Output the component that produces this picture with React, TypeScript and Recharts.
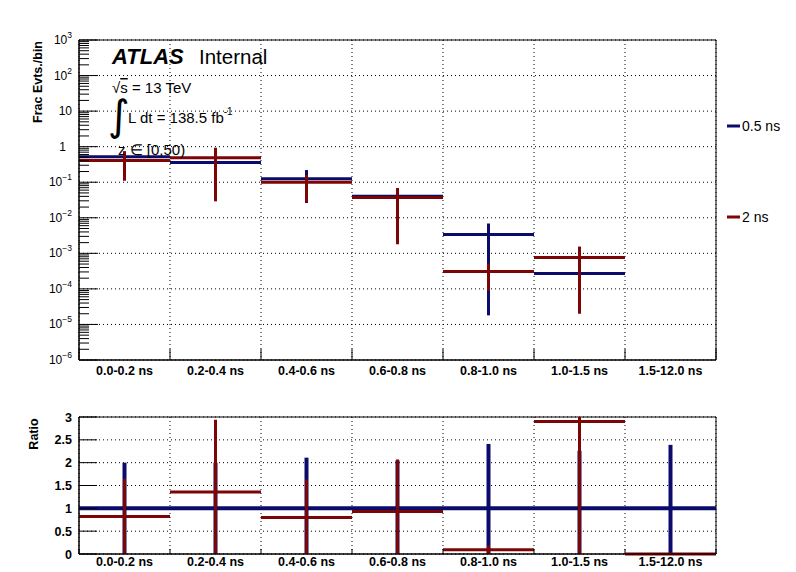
import React from 'react';
import { ComposedChart, Scatter, ErrorBar, XAxis, YAxis, CartesianGrid, ReferenceArea } from 'recharts';

const bins = ['0.0-0.2 ns', '0.2-0.4 ns', '0.4-0.6 ns', '0.6-0.8 ns', '0.8-1.0 ns', '1.0-1.5 ns', '1.5-12.0 ns'];
const seriesNames = ['0.5 ns', '2 ns'];
const seriesColors = ['#0b0b6b', '#7c0505'];

// fraction of events per bin, with error band bounds (null = empty bin)
const frac05 = [0.52, 0.36, 0.126, 0.04, 0.0034, 0.00027, null];
const frac05Lo = [0.3, 0.15, 0.026, 0.01, 1.8e-5, 6e-5, null];
const frac05Hi = [0.7, 0.8, 0.22, 0.06, 0.0069, 0.0006, null];
const frac2 = [0.41, 0.49, 0.1, 0.037, 0.00031, 0.00076, null];
const frac2Lo = [0.11, 0.029, 0.027, 0.0018, 8.7e-5, 2e-5, null];
const frac2Hi = [0.75, 0.93, 0.16, 0.069, 0.00052, 0.00155, null];

// ratio to the 0.5 ns sample (upper edge of bin 6 error is cut by the frame at 3)
const ratio05 = [1, 1, 1, 1, 1, 1, 1];
const ratio05Hi = [2.0, 2.0, 2.11, 2.05, 2.41, 2.26, 2.39];
const ratio2 = [0.82, 1.36, 0.8, 0.93, 0.094, 2.9, 0];
const ratio2Hi = [1.65, 2.94, 1.63, 2.07, 0.19, 3.0, 0];
const ratioLo = [0, 0, 0, 0, 0, 0, 0];

const logTicks = [1e-6, 1e-5, 1e-4, 1e-3, 1e-2, 1e-1, 1, 10, 100, 1000];
const minorTicks = logTicks.slice(0, -1).flatMap(d => [2, 3, 4, 5, 6, 7, 8, 9].map(m => m * d));
const allLogTicks = [...logTicks, ...minorTicks].sort((a, b) => a - b);
const ratioTicks = [0, 0.5, 1, 1.5, 2, 2.5, 3];
const edgeTicks = [0, 1, 2, 3, 4, 5, 6, 7];
const xTicks = [...edgeTicks, ...bins.map((_, i) => i + 0.5)].sort((a, b) => a - b);

const FONT = '"Liberation Sans", Arial, Helvetica, sans-serif';
const TICK_GAP = 7;

const makeRows = (vals: (number | null)[], lo: (number | null)[], hi: (number | null)[]) =>
    vals
        .map((v, i) => (v == null ? null : { x: i + 0.5, y: v, ex: 0.5, ey: [v - (lo[i] as number), (hi[i] as number) - v] }))
        .filter(Boolean) as any[];

const topRows = [makeRows(frac05, frac05Lo, frac05Hi), makeRows(frac2, frac2Lo, frac2Hi)];
const bottomRows = [makeRows(ratio05, ratioLo, ratio05Hi), makeRows(ratio2, ratioLo, ratio2Hi)];

// log axis: label on decades, inward tick marks (long on decades, short in between)
const LogTick = ({ x, y, payload }: any) => {
    const lg = Math.log10(payload.value);
    const e = Math.round(lg);
    const major = Math.abs(lg - e) < 1e-6;
    const ax = x + TICK_GAP;
    const mark = <line x1={ax} x2={ax + (major ? 19 : 10)} y1={y} y2={y} stroke="#000" />;
    if (!major) return mark;
    const common = { y, dy: 4, textAnchor: 'end' as const, fontFamily: FONT, fontSize: 12, fill: '#000' };
    let label;
    if (e === 0) label = <text {...common} x={x - 6}>1</text>;
    else if (e === 1) label = <text {...common} x={x}>10</text>;
    else
        label = (
            <text {...common} x={x}>
                10<tspan dy={-6} fontSize={8.5}>{e < 0 ? '\u2212' + -e : e}</tspan>
            </text>
        );
    return <g>{mark}{label}</g>;
};

const RatioTick = ({ x, y, payload }: any) => {
    const ax = x + TICK_GAP;
    return (
        <g>
            <line x1={ax} x2={ax + 18} y1={y} y2={y} stroke="#000" />
            <text x={x} y={y} dy={4.5} textAnchor="end" fontFamily={FONT} fontSize={12.5} fontWeight={700} fill="#000">
                {payload.value}
            </text>
        </g>
    );
};

// x axis: bin names at centres, inward tick marks at bin edges
const makeBinTick = (gap: number, len: number) => ({ x, y, payload }: any) => {
    const v = payload.value;
    if (Number.isInteger(v)) {
        const ay = y - gap;
        return <line x1={x} x2={x} y1={ay} y2={ay - len} stroke="#000" />;
    }
    return (
        <text x={x} y={y} dy={10} textAnchor="middle" fontFamily={FONT} fontSize={12.5} fontWeight={700} fill="#000">
            {bins[Math.floor(v)]}
        </text>
    );
};
const TopBinTick = makeBinTick(5, 11);
const BottomBinTick = makeBinTick(2, 5);

const hidden = () => <g />;

const Series = (rows: any[], i: number, sw: number) => (
    <Scatter key={i} data={rows} xAxisId="main" yAxisId="main" shape={hidden} isAnimationActive={false} name={seriesNames[i]}>
        <ErrorBar dataKey="ex" direction="x" width={0} stroke={seriesColors[i]} strokeWidth={sw} isAnimationActive={false} />
        <ErrorBar dataKey="ey" direction="y" width={0} stroke={seriesColors[i]} strokeWidth={sw} isAnimationActive={false} />
    </Scatter>
);

export default function App() {
    return (
        <div style={{ position: 'absolute', left: 0, top: 0, width: 796, height: 572, background: '#fff' }}>
            <div style={{ position: 'absolute', left: 0, top: 0 }}>
                <ComposedChart width={796} height={400} margin={{ top: 40, right: 80, bottom: 0, left: 19 }}>
                    <XAxis xAxisId="main" type="number" dataKey="x" domain={[0, 7]} ticks={xTicks} allowDataOverflow
                        tick={TopBinTick} tickLine={false} tickSize={0} tickMargin={5}
                        axisLine={{ stroke: '#000' }} height={40} interval={0} />
                    <YAxis yAxisId="main" dataKey="y" scale="log" domain={[1e-6, 1e3]} ticks={allLogTicks} allowDataOverflow
                        tick={LogTick} tickLine={false} tickSize={0} tickMargin={TICK_GAP} axisLine={{ stroke: '#000' }} width={60} interval={0} />
                    <CartesianGrid xAxisId="main" yAxisId="main" stroke="#000" strokeDasharray="1 3"
                        horizontalValues={logTicks} verticalValues={edgeTicks} />
                    <ReferenceArea xAxisId="main" yAxisId="main" x1={0} x2={7} y1={1e-6} y2={1e3} fill="none" stroke="#000" />
                    {topRows.map((rows, i) => Series(rows, i, 3))}
                </ComposedChart>
            </div>
            <div style={{ position: 'absolute', left: 0, top: 400 }}>
                <ComposedChart width={796} height={172} margin={{ top: 17, right: 80, bottom: 0, left: 19 }}>
                    <XAxis xAxisId="main" type="number" dataKey="x" domain={[0, 7]} ticks={xTicks} allowDataOverflow
                        tick={BottomBinTick} tickLine={false} tickSize={0} tickMargin={2}
                        axisLine={{ stroke: '#000' }} height={18} interval={0} />
                    <YAxis yAxisId="main" dataKey="y" type="number" domain={[0, 3]} ticks={ratioTicks} allowDataOverflow
                        tick={RatioTick} tickLine={false} tickSize={0} tickMargin={TICK_GAP} axisLine={{ stroke: '#000' }} width={60} interval={0} />
                    <CartesianGrid xAxisId="main" yAxisId="main" stroke="#000" strokeDasharray="1 3"
                        horizontalValues={ratioTicks} verticalValues={edgeTicks} />
                    <ReferenceArea xAxisId="main" yAxisId="main" x1={0} x2={7} y1={0} y2={3} fill="none" stroke="#000" />
                    {bottomRows.map((rows, i) => Series(rows, i, i === 0 ? 4 : 3))}
                </ComposedChart>
            </div>
            <svg width={796} height={572} style={{ position: 'absolute', left: 0, top: 0, pointerEvents: 'none' }}>
                <g fontFamily={FONT} fill="#000">
                    <text x={112} y={64} fontSize={22} fontWeight={700} fontStyle="italic">ATLAS</text>
                    <text x={199} y={64} fontSize={20.5}>Internal</text>
                    <text x={112} y={93} fontSize={15}>
                        {'\u221A'}<tspan textDecoration="overline">s</tspan> = 13 TeV
                    </text>
                    <text x={108} y={130} fontSize={42} fontFamily='"DejaVu Sans", sans-serif'>{'\u222B'}</text>
                    <text x={128} y={123} fontSize={15}>
                        L dt = 138.5 fb<tspan dy={-8} fontSize={10}>-1</tspan>
                    </text>
                    <text x={118} y={155} fontSize={15}>z {'\u2208'} [0,50)</text>
                    <text transform="translate(42,82) rotate(-90)" textAnchor="middle" fontSize={12.5} fontWeight={700}>Frac Evts./bin</text>
                    <text transform="translate(38,434) rotate(-90)" textAnchor="middle" fontSize={12.5} fontWeight={700}>Ratio</text>
                    {seriesNames.map((n, i) => (
                        <g key={n}>
                            <line x1={727} x2={740} y1={126 + i * 91} y2={126 + i * 91} stroke={seriesColors[i]} strokeWidth={3} />
                            <text x={742} y={131 + i * 91} fontSize={14}>{n}</text>
                        </g>
                    ))}
                </g>
            </svg>
        </div>
    );
}
